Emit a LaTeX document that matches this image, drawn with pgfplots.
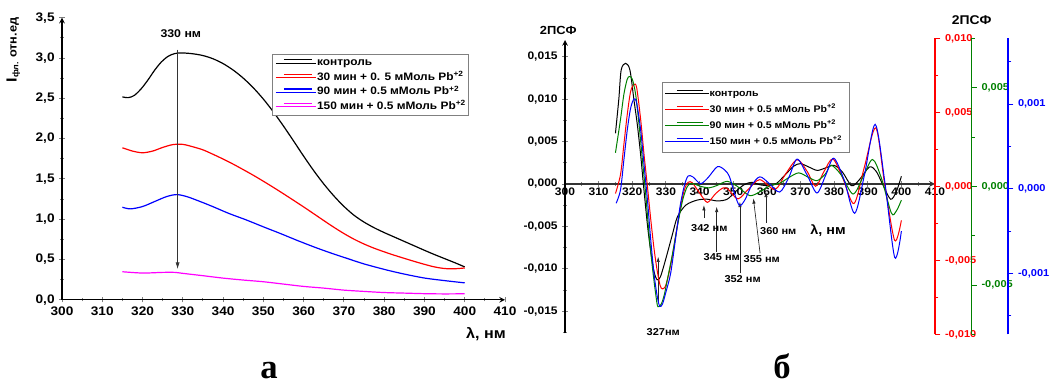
\documentclass[border=0pt]{standalone}
\usepackage{fontspec}
\setmainfont{Liberation Sans}[FakeStretch=1.1]
\newfontfamily\serifbf{Liberation Serif}
\usepackage{pgfplots}
\pgfplotsset{compat=1.18}
\usetikzlibrary{arrows.meta}
\definecolor{ogreen}{RGB}{0,128,0}
\definecolor{mag}{RGB}{255,0,255}
\newcommand\fs[1]{\fontsize{#1}{#1}\selectfont\bfseries}
\pgfplotsset{
 base/.style={
  scale only axis,
  /pgf/number format/assume math mode=true,
  /pgf/number format/use comma,
  /pgf/number format/1000 sep={},
  scaled y ticks=false, scaled x ticks=false,
  tick align=outside,
  major tick length=4pt, minor tick length=2.5pt,
  tick style={line width=0.7pt},
  axis line style={line width=0.9pt,-},
 },
}
\begin{document}
\begin{tikzpicture}
\useasboundingbox (0,0) rectangle (795pt,291.75pt);
% ---------------- left panel ----------------
\begin{axis}[base,
  at={(46.5pt,66.9pt)}, anchor=south west,
  width=332.25pt, height=211.6pt,
  xmin=300, xmax=410, ymin=0, ymax=3.5,
  axis x line=bottom, axis y line=left,
  xtick={300,310,...,410}, minor xtick={305,315,...,405},
  ytick={0,0.5,1,1.5,2,2.5,3,3.5}, minor ytick={0.25,0.75,1.25,1.75,2.25,2.75,3.25},
  tick label style={font=\fs{9.3}},
  y tick label style={/pgf/number format/fixed,/pgf/number format/fixed zerofill,/pgf/number format/precision=1},
  clip=false,
  legend style={at={(0.474,0.871)}, anchor=north west, draw=gray, line width=0.8pt, fill=white,
     inner xsep=2pt, inner ysep=1pt, font=\fs{8.1}, row sep=0pt, column sep=0pt,
     nodes={inner xsep=0pt, inner ysep=1.45pt, text height=6pt, text depth=2pt}},
  legend cell align=left,
  legend image code/.code={\path (0pt,0pt) -- (30.5pt,0pt); \draw[#1, line width=0.9pt] (6pt,2.5pt) -- (27.5pt,2.5pt);},
]
\addplot[black, line width=0.9pt, smooth] coordinates {(315,2.517)(316.5,2.508)(318,2.537)(319.7,2.62)(321.3,2.724)(323,2.848)(324.7,2.952)(326.4,3.022)(328.1,3.056)(330,3.062)(332.5,3.052)(335,3.030)(337.5,2.990)(340,2.930)(342.5,2.850)(345,2.750)(347.5,2.630)(350,2.490)(352.5,2.330)(355,2.155)(357.5,1.970)(360,1.782)(362.5,1.602)(365,1.437)(367.5,1.289)(370,1.159)(372.5,1.049)(375,0.964)(377.5,0.894)(380,0.834)(382.5,0.779)(385,0.724)(387.5,0.669)(390,0.614)(392.5,0.561)(395,0.511)(397.5,0.461)(400,0.408)};
\addlegendentry{контроль}
\addplot[red, line width=0.9pt, smooth] coordinates {(315,1.886)(317.5,1.845)(320,1.824)(322.5,1.845)(325,1.890)(327.5,1.925)(330,1.928)(332.5,1.898)(335,1.860)(337.5,1.805)(340,1.746)(342.5,1.683)(345,1.615)(347.5,1.545)(350,1.471)(352.5,1.394)(355,1.315)(357.5,1.234)(360,1.152)(362.5,1.068)(365,0.983)(367.5,0.900)(370,0.822)(372.5,0.752)(375,0.692)(377.5,0.640)(380,0.595)(382.5,0.553)(385,0.514)(387.5,0.476)(390,0.440)(392.5,0.408)(395,0.388)(397.5,0.385)(400,0.395)};
\addlegendentry{30 мин + 0. 5 мМоль Pb\textsuperscript{+2}}
\addplot[blue, line width=0.9pt, smooth] coordinates {(315,1.148)(317,1.128)(320,1.157)(323,1.219)(326,1.281)(328.5,1.305)(331,1.28)(334,1.225)(337.5,1.155)(341.5,1.07)(345.8,0.99)(350,0.905)(354.1,0.825)(358,0.745)(362.4,0.659)(366.5,0.585)(370.7,0.515)(375,0.445)(380.6,0.37)(385,0.319)(390,0.27)(395,0.238)(400,0.21)};
\addlegendentry{90 мин + 0.5 мМоль Pb\textsuperscript{+2}}
\addplot[mag, line width=0.9pt, smooth] coordinates {(315,0.348)(320,0.332)(325,0.34)(328,0.34)(330,0.328)(335,0.299)(340,0.269)(345,0.245)(350,0.224)(355,0.195)(360,0.166)(365,0.145)(370,0.12)(375,0.104)(380,0.09)(385,0.083)(390,0.076)(395,0.073)(400,0.075)};
\addlegendentry{150 мин + 0.5 мМоль Pb\textsuperscript{+2}}
\draw[black!80, line width=0.5pt, -{Latex[length=5pt,width=3pt]}] (axis cs:328.7,3.105) -- (axis cs:328.7,0.381);
\node[font=\fs{8.4}] at (axis cs:329.5,3.30) {330 нм};
\end{axis}
% ---------------- right panel, main axis ----------------
\begin{axis}[base,
  at={(423.75pt,41.775pt)}, anchor=south west,
  width=277.5pt, height=219.98pt,
  xmin=300, xmax=410, ymin=-0.01761, ymax=0.01698,
  axis x line=middle, axis y line=left,
  hide obscured x ticks=false, hide obscured y ticks=false,
  x axis line style={black!80, line width=1pt},
  xtick={300,310,...,410}, minor xtick={305,315,...,405},
  ytick={-0.015,-0.01,-0.005,0,0.005,0.01,0.015},
  minor ytick={-0.0175,-0.0125,-0.0075,-0.0025,0.0025,0.0075,0.0125},
  tick label style={font=\fs{8.2}},
  x tick label style={inner sep=1pt},
  y tick label style={/pgf/number format/fixed,/pgf/number format/fixed zerofill,/pgf/number format/precision=3},
  clip=false,
  legend style={at={(0.261,0.856)}, anchor=north west, draw=gray, line width=0.8pt, fill=white,
     inner xsep=2pt, inner ysep=2.3pt, font=\fs{7.2}, row sep=0pt, column sep=0pt,
     nodes={inner xsep=0pt, inner ysep=1.95pt, text height=6pt, text depth=2pt}},
  legend cell align=left,
  legend image code/.code={\path (0pt,0pt) -- (32.85pt,0pt); \draw[#1, line width=0.9pt] (8.65pt,2.3pt) -- (27.95pt,2.3pt);},
]
\addplot[black, line width=0.75pt, smooth] coordinates {(315.0,0.00598)(316.0,0.0100)(316.7,0.01344)(318.0,0.01423)(319.3,0.01344)(320.5,0.0099)(321.5,0.0070)(322.5,0.0034)(323.3,0.0000)(324.5,-0.0048)(325.5,-0.0080)(326.5,-0.0104)(327.4,-0.0113)(328.3,-0.0110)(329.2,-0.0099)(330.4,-0.0082)(331.9,-0.0060)(333.4,-0.0039)(335.9,-0.0025)(339.3,-0.0019)(342.3,-0.0018)(345.3,-0.0020)(348.2,-0.0018)(350.7,-0.0009)(353.2,-0.0001)(355.5,0.0002)(358.0,-0.0001)(361.0,-0.0002)(363.0,0.0001)(365.5,0.0011)(368.0,0.0021)(370.0,0.0024)(372.5,0.0020)(375.0,0.0016)(377.5,0.0019)(380.0,0.0022)(382.5,0.0014)(385.2,-0.0002)(387.5,0.0005)(390.5,0.0020)(392.5,0.0015)(394.5,-0.0001)(396.8,-0.0018)(398.5,-0.0009)(400.0,0.0009)};
\addlegendentry{контроль}
\addlegendimage{red}
\addlegendentry{30 мин + 0.5 мМоль Pb\textsuperscript{+2}\hspace*{8pt}}
\addlegendimage{ogreen}
\addlegendentry{90 мин + 0.5 мМоль Pb\textsuperscript{+2}}
\addlegendimage{blue}
\addlegendentry{150 мин + 0.5 мМоль Pb\textsuperscript{+2}}
\begin{scope}[black!85, line width=0.5pt, -{Latex[length=4pt,width=2.5pt]}]
\draw (axis cs:327.7,-0.01388) -- (axis cs:327.7,-0.00857);
\draw (axis cs:341.3,-0.00404) -- (axis cs:341.3,-0.00248);
\draw (axis cs:345.1,-0.00798) -- (axis cs:345.1,-0.00268);
\draw (axis cs:352.0,-0.01053) -- (axis cs:352.0,-0.00209);
\draw (axis cs:358.0,-0.00817) -- (axis cs:356.0,-0.00169);
\draw (axis cs:359.75,-0.00463) -- (axis cs:359.75,-0.00091);
\end{scope}
\node[font=\fs{7.5}] at (axis cs:329.2,-0.01742) {327нм};
\node[font=\fs{7.5}] at (axis cs:342.9,-0.00522) {342 нм};
\node[font=\fs{7.5}] at (axis cs:346.6,-0.00857) {345 нм};
\node[font=\fs{7.5}] at (axis cs:352.8,-0.01124) {352 нм};
\node[font=\fs{7.5}] at (axis cs:358.5,-0.00888) {355 нм};
\node[font=\fs{7.5}] at (axis cs:363.4,-0.00551) {360 нм};
\node[font=\fs{9.8}] at (axis cs:378.2,-0.00551) {λ, нм};
\end{axis}
% red axis
\begin{axis}[base,
  at={(423.75pt,41.025pt)}, anchor=south west,
  width=277.5pt, height=222pt,
  xmin=300, xmax=410, ymin=-0.01, ymax=0.01,
  axis x line=none, axis y line*=right,
  y axis line style={red, line width=0.9pt},
  ytick style={red, line width=0.7pt},
  ytick={-0.01,-0.005,0,0.005,0.01}, minor ytick={-0.0075,-0.0025,0.0025,0.0075},
  tick label style={font=\fs{7.5}, red},
  y tick label style={/pgf/number format/fixed,/pgf/number format/fixed zerofill,/pgf/number format/precision=3},
]
\addplot[red, line width=0.75pt, smooth] coordinates {(315.0,-0.00049)(316.5,0.00079)(317.5,0.00282)(318.5,0.00484)(319.5,0.0064)(320.5,0.00687)(321.3,0.00667)(322.5,0.0045)(323.5,0.00214)(324.5,0.0)(325.5,-0.00225)(326.5,-0.00428)(327.5,-0.00583)(328.3,-0.00671)(328.9,-0.00693)(329.8,-0.00678)(330.8,-0.00597)(331.9,-0.00473)(333.2,-0.00293)(334.4,-0.00135)(335.5,-0.00022)(336.6,0.00027)(337.8,0.00025)(339.3,-0.00022)(341.8,-0.00101)(342.8,-0.00103)(344.8,-0.00049)(347.0,-0.00011)(348.5,-0.0002)(351.4,-0.00085)(354.5,-0.0002)(357.9,0.00045)(362.4,-0.00022)(365.5,0.0008)(369.0,0.0018)(372.0,0.0010)(374.5,0.0)(377.0,0.0010)(379.6,0.00185)(382.5,0.0006)(385.9,-0.00117)(389.0,0.0013)(392.4,0.00395)(395.0,0.0002)(398.0,-0.00365)(400.0,-0.0023)};
\end{axis}
% green axis
\begin{axis}[base,
  at={(423.75pt,41.025pt)}, anchor=south west,
  width=304.875pt, height=222pt,
  xmin=300, xmax=420.84, ymin=-0.0075, ymax=0.0075,
  axis x line=none, axis y line*=right,
  y axis line style={ogreen, line width=0.9pt},
  ytick style={ogreen, line width=0.7pt},
  ytick={-0.005,0,0.005}, minor ytick={-0.0075,-0.0025,0.0025,0.0075},
  tick label style={font=\fs{7.5}, ogreen},
  y tick label style={/pgf/number format/fixed,/pgf/number format/fixed zerofill,/pgf/number format/precision=3},
]
\addplot[ogreen, line width=0.75pt, smooth] coordinates {(315.0,0.0017)(316.5,0.00339)(317.5,0.00466)(318.5,0.00543)(319.2,0.00556)(320.0,0.00543)(321.0,0.00466)(322.0,0.00314)(323.0,0.00136)(324.0,-0.00042)(325.0,-0.00246)(326.0,-0.00413)(327.0,-0.00551)(327.6,-0.0061)(328.6,-0.00597)(329.5,-0.00551)(330.4,-0.00475)(331.9,-0.00347)(333.4,-0.00203)(335.0,-0.00068)(336.4,0.0)(337.8,0.00014)(340.3,0.0)(342.8,-0.00008)(345.3,0.00005)(348.2,0.00025)(351.2,0.0)(354.9,-0.00047)(358.0,-0.00027)(361.0,0.00004)(364.0,0.00017)(366.5,0.00044)(369.5,0.00068)(372.5,0.00044)(375.0,0.00029)(377.5,0.00065)(379.1,0.00107)(382.0,0.0006)(385.6,-0.00039)(388.5,0.00044)(391.4,0.00136)(394.0,0.00044)(397.0,-0.00135)(398.5,-0.00125)(400.0,-0.0007)};
\end{axis}
% blue axis
\begin{axis}[base,
  at={(423.75pt,41.025pt)}, anchor=south west,
  width=332.25pt, height=222pt,
  xmin=300, xmax=431.69, ymin=-0.001719, ymax=0.001776,
  axis x line=none, axis y line*=right,
  y axis line style={blue, line width=0.9pt},
  ytick style={blue, line width=0.7pt},
  ytick={-0.001,0,0.001}, minor ytick={-0.0015,-0.0005,0.0005,0.0015},
  tick label style={font=\fs{7.5}, blue},
  y tick label style={/pgf/number format/fixed,/pgf/number format/fixed zerofill,/pgf/number format/precision=3},
]
\addplot[blue, line width=0.75pt, smooth] coordinates {(315.2,-0.000172)(316.5,-0.000015)(317.5,0.00034)(318.5,0.00069)(319.5,0.00095)(320.5,0.00106)(321.3,0.00101)(322.5,0.00069)(323.5,0.00028)(324.5,-0.00013)(325.5,-0.00061)(326.5,-0.00102)(327.5,-0.00129)(328.2,-0.00139)(329.0,-0.00136)(330.0,-0.00122)(331.4,-0.001)(332.8,-0.00061)(334.2,-0.00021)(335.5,0.00004)(336.6,0.00015)(338.0,0.00014)(340.3,0.00006)(342.5,0.00013)(345.3,0.00026)(347.5,0.00022)(348.9,0.00014)(350.5,-0.00007)(351.9,-0.0002)(353.5,-0.00013)(355.5,0.00004)(357.9,0.00014)(360.5,0.00007)(363.8,-0.00004)(366.5,0.00013)(369.0,0.00035)(372.0,0.00016)(374.9,-0.00005)(377.5,0.00016)(379.9,0.00036)(383.0,0.0001)(386.1,-0.00029)(389.0,0.00016)(392.2,0.00076)(395.0,0.0001)(398.0,-0.00081)(400.0,-0.0005)};
\end{axis}
% free texts
\node[font=\fs{8.8}] at (418.7pt,269.25pt) {2ПСФ};
\node[font=\fs{9.5}] at (728.8pt,276.75pt) {2ПСФ};
\node[font=\fs{11}] at (364.5pt,41.25pt) {λ, нм};
\node[rotate=90, anchor=east, font=\fs{8.7}] at (10pt,282pt) {{\fs{11}I}\textsubscript{фл.} отн.ед};
\node[anchor=base, font=\serifbf\bfseries\fontsize{26}{26}\selectfont] at (201.75pt,8.25pt) {а};
\node[anchor=base, font=\serifbf\bfseries\fontsize{26}{26}\selectfont] at (586.5pt,8.25pt) {б};
\end{tikzpicture}
\end{document}
